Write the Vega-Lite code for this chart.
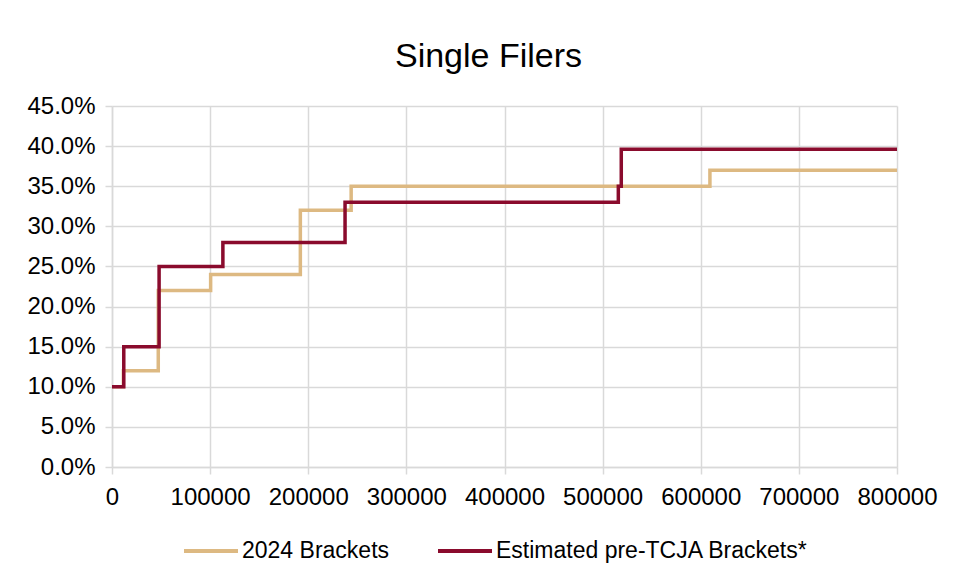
{
  "$schema": "https://vega.github.io/schema/vega-lite/v6.json",
  "width": 785,
  "height": 361,
  "autosize": {"type": "none"},
  "padding": {"left": 112, "top": 106, "right": 61, "bottom": 112},
  "background": "white",
  "title": {
    "text": "Single Filers",
    "font": "Liberation Sans",
    "fontSize": 34,
    "fontWeight": "normal",
    "color": "#000000",
    "anchor": "middle",
    "baseline": "alphabetic",
    "offset": 31,
    "dx": -16,
    "dy": 38
  },
  "data": {
    "values": [
      {"income": 0, "rate": 0.10, "series": "2024 Brackets"},
      {"income": 11600, "rate": 0.12, "series": "2024 Brackets"},
      {"income": 47150, "rate": 0.22, "series": "2024 Brackets"},
      {"income": 100525, "rate": 0.24, "series": "2024 Brackets"},
      {"income": 191950, "rate": 0.32, "series": "2024 Brackets"},
      {"income": 243725, "rate": 0.35, "series": "2024 Brackets"},
      {"income": 609350, "rate": 0.37, "series": "2024 Brackets"},
      {"income": 800000, "rate": 0.37, "series": "2024 Brackets"},
      {"income": 0, "rate": 0.10, "series": "Estimated pre-TCJA Brackets*"},
      {"income": 12000, "rate": 0.15, "series": "Estimated pre-TCJA Brackets*"},
      {"income": 48000, "rate": 0.25, "series": "Estimated pre-TCJA Brackets*"},
      {"income": 113000, "rate": 0.28, "series": "Estimated pre-TCJA Brackets*"},
      {"income": 237500, "rate": 0.33, "series": "Estimated pre-TCJA Brackets*"},
      {"income": 516000, "rate": 0.35, "series": "Estimated pre-TCJA Brackets*"},
      {"income": 519000, "rate": 0.396, "series": "Estimated pre-TCJA Brackets*"},
      {"income": 800000, "rate": 0.396, "series": "Estimated pre-TCJA Brackets*"}
    ]
  },
  "mark": {"type": "line", "interpolate": "step-after", "strokeWidth": 3.5, "strokeCap": "butt", "strokeJoin": "miter"},
  "encoding": {
    "x": {
      "field": "income",
      "type": "quantitative",
      "scale": {"domain": [0, 800000], "nice": false},
      "axis": {
        "values": [0, 100000, 200000, 300000, 400000, 500000, 600000, 700000, 800000],
        "format": "d",
        "title": null,
        "labelFlush": false,
        "labelPadding": 11
      }
    },
    "y": {
      "field": "rate",
      "type": "quantitative",
      "scale": {"domain": [0, 0.45], "nice": false},
      "axis": {
        "values": [0, 0.05, 0.1, 0.15, 0.2, 0.25, 0.3, 0.35, 0.4, 0.45],
        "format": ".1%",
        "title": null
      }
    },
    "color": {
      "field": "series",
      "type": "nominal",
      "scale": {
        "domain": ["2024 Brackets", "Estimated pre-TCJA Brackets*"],
        "range": ["#DDB982", "#8A0B2D"]
      },
      "legend": {
        "title": null,
        "orient": "none",
        "direction": "horizontal",
        "legendX": 70,
        "legendY": 416,
        "symbolType": "stroke",
        "symbolSize": 2916,
        "symbolStrokeWidth": 4,
        "labelFont": "Liberation Sans",
        "labelFontSize": 23,
        "labelColor": "#000000",
        "labelOffset": 2,
        "columnPadding": 40,
        "labelLimit": 500
      }
    }
  },
  "config": {
    "view": {"stroke": null},
    "axis": {
      "labelFont": "Liberation Sans",
      "labelFontSize": 24,
      "labelColor": "#000000",
      "gridColor": "#D9D9D9",
      "gridWidth": 1.5,
      "domainColor": "#D9D9D9",
      "domainWidth": 1.5,
      "tickColor": "#D9D9D9",
      "tickWidth": 1.5,
      "tickSize": 7
    },
    "axisY": {"labelPadding": 10}
  }
}
